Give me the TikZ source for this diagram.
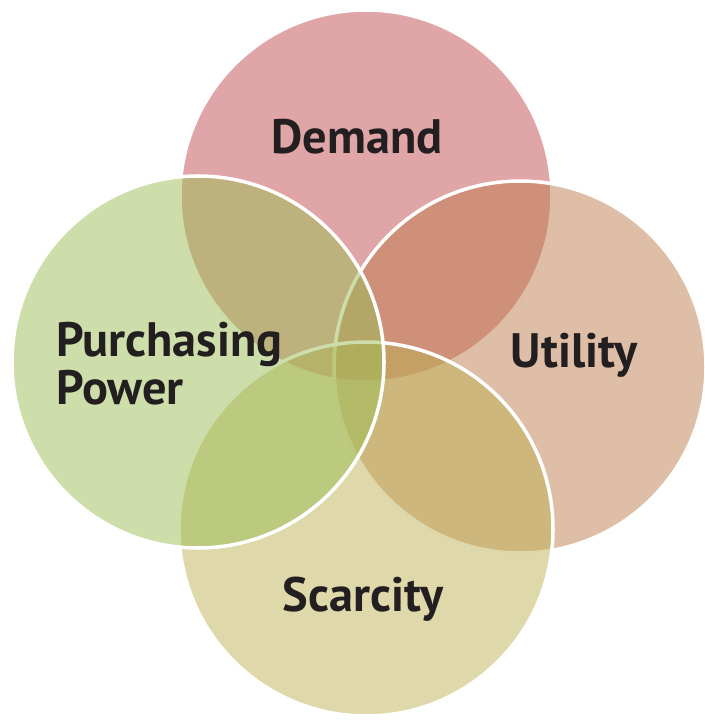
\documentclass[tikz,border=0pt]{standalone}
\usepackage{fontspec}
\newfontfamily\labelfont{PT Sans}

\definecolor{demandcol}{RGB}{193,75,79}
\definecolor{utilitycol}{RGB}{189,125,77}
\definecolor{scarcitycol}{RGB}{189,177,85}
\definecolor{powercol}{RGB}{155,189,85}
\definecolor{labelcol}{RGB}{35,31,32}

\tikzset{
  bubble/.style={draw=white,line width=2pt,fill opacity=0.5},
  caption/.style={text=labelcol,font=\labelfont\bfseries\fontsize{27.5}{27.5}\selectfont}
}

\begin{document}
\begin{tikzpicture}[x=0.02cm,y=-0.02cm]
\useasboundingbox (0,0) rectangle (705,722);
\draw[bubble,fill=demandcol] (366,196) circle (186);
\draw[bubble,fill=utilitycol] (520,367) circle (186);
\draw[bubble,fill=scarcitycol] (366,529) circle (187);
\draw[bubble,fill=powercol] (198,362) circle (186);
\node[caption] (demand) at (357,137) {Demand};
\node[caption] (utility) at (574,355) {Utility};
\node[caption] (scarcity) at (363,599) {Scarcity};
\node[caption,anchor=west,align=left] (power) at (50,364) {Purchasing\\Power};
\end{tikzpicture}
\end{document}
